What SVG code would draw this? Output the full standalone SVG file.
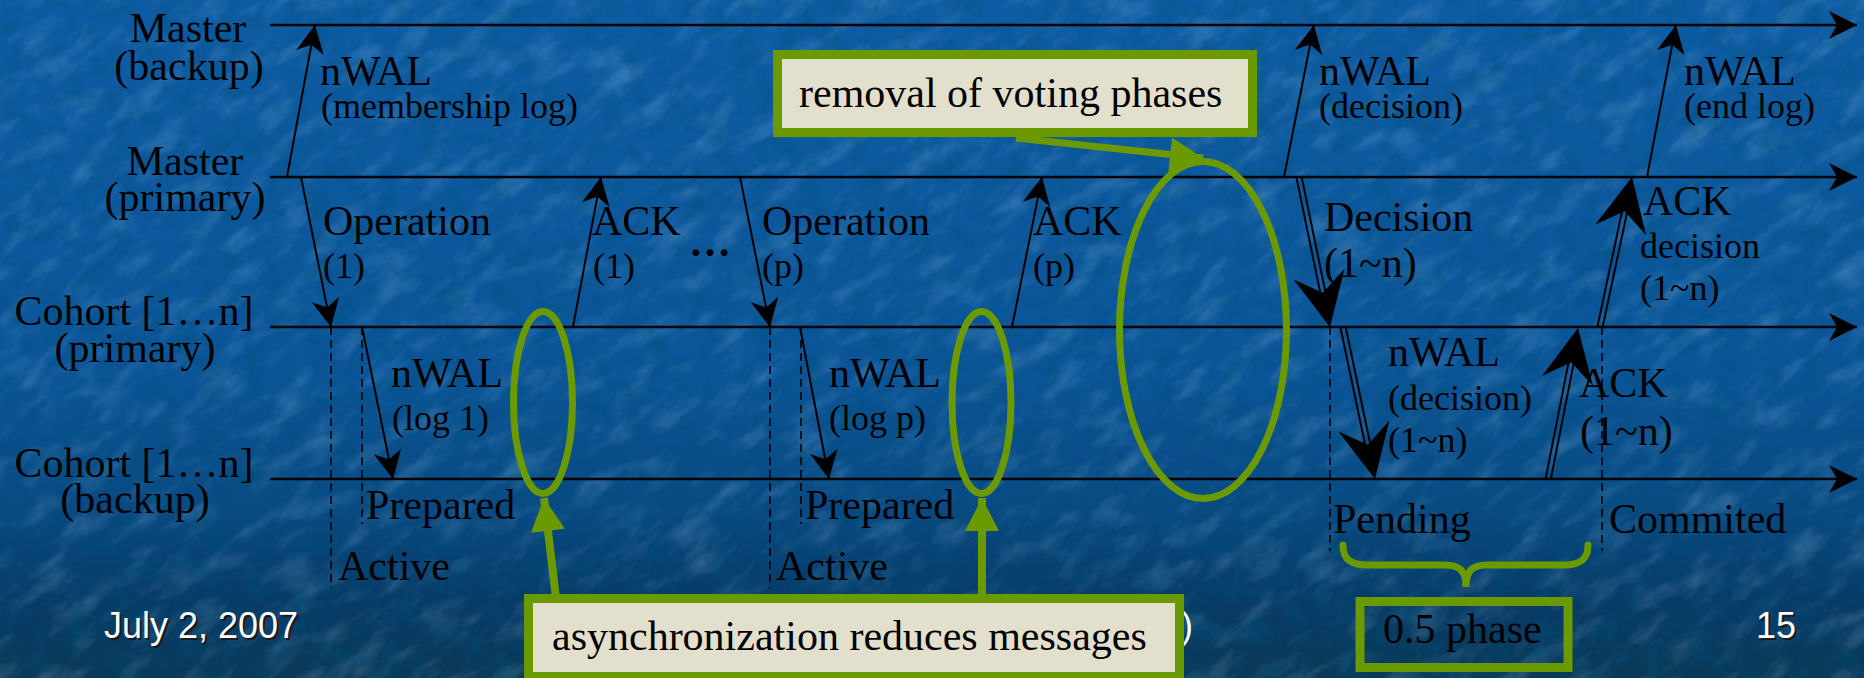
<svg xmlns="http://www.w3.org/2000/svg" width="1864" height="678" viewBox="0 0 1864 678">
  <defs>
    <linearGradient id="bg" x1="0" y1="0" x2="0" y2="1">
      <stop offset="0" stop-color="#0e5ca3"/>
      <stop offset="0.55" stop-color="#0b5597"/>
      <stop offset="0.75" stop-color="#094a82"/>
      <stop offset="0.88" stop-color="#073c68"/>
      <stop offset="1" stop-color="#0a3a58"/>
    </linearGradient>
    <filter id="water" x="0" y="0" width="1" height="1">
      <feTurbulence type="fractalNoise" baseFrequency="0.02 0.05" numOctaves="4" seed="5"/>
      <feColorMatrix type="matrix" values="0 0 0 0 0.5  0 0 0 0 0.75  0 0 0 0 1  0 0 0 2.4 -1.15"/>
    </filter>
    <filter id="mottle" x="0" y="0" width="1" height="1">
      <feTurbulence type="fractalNoise" baseFrequency="0.045" numOctaves="3" seed="3"/>
      <feColorMatrix type="matrix" values="0 0 0 0 0  0 0 0 0 0.08  0 0 0 0 0.2  0 0 0 2.2 -0.95"/>
    </filter>
    <style>
      .t { font-family: "Liberation Serif", "Times New Roman", serif; fill: #000; }
      .l { font-size: 42px; }
      .s { font-size: 36px; }
      .foot { font-family: "Liberation Sans", Arial, sans-serif; font-size: 36px; }
      .tl { stroke: #000; stroke-width: 2.5; fill: none; marker-end: url(#ah); }
      .msg { stroke: #000; stroke-width: 2; fill: none; marker-end: url(#ah); }
      .dbl { stroke: #000; stroke-width: 2; fill: none; }
      .dash { stroke: #000; stroke-width: 1.6; stroke-dasharray: 8 5; fill: none; }
      .gr { stroke: #6b9a00; fill: none; }
      .box { fill: #e2dfcc; stroke: #6b9a00; stroke-width: 9; }
    </style>
    <marker id="ah" markerUnits="userSpaceOnUse" viewBox="-30 -16 32 32" markerWidth="32" markerHeight="32" refX="0" refY="0" orient="auto" overflow="visible">
      <path d="M0,0 L-28,-14 L-20,0 L-28,14 z" fill="#000"/>
    </marker>
    <marker id="gh" markerUnits="userSpaceOnUse" viewBox="-36 -20 38 40" markerWidth="38" markerHeight="40" refX="0" refY="0" orient="auto" overflow="visible">
      <path d="M0,0 L-33,-17 L-33,17 z" fill="#6b9a00"/>
    </marker>
    <path id="bighead" d="M0,0 L-54,-26 L-35,0 L-54,26 z" fill="#000"/>
  </defs>

  <!-- backdrop: blue water texture -->
  <rect width="1864" height="678" fill="url(#bg)"/>
  <g opacity="0.2">
    <rect x="-700" y="-900" width="3300" height="2500" filter="url(#water)" transform="rotate(-35 932 339)"/>
  </g>
  <g opacity="0.45">
    <rect width="1864" height="678" filter="url(#mottle)"/>
  </g>

  <!-- lifelines -->
  <g id="lifelines">
    <g id="master-backup">
      <text class="t l" x="188" y="42" text-anchor="middle">Master</text>
      <text class="t l" x="189" y="80" text-anchor="middle">(backup)</text>
      <line class="tl" x1="270" y1="25" x2="1857" y2="25"/>
    </g>
    <g id="master-primary">
      <text class="t l" x="185" y="175" text-anchor="middle">Master</text>
      <text class="t l" x="185" y="211" text-anchor="middle">(primary)</text>
      <line class="tl" x1="270" y1="177" x2="1857" y2="177"/>
    </g>
    <g id="cohort-primary">
      <text class="t l" x="134" y="325" text-anchor="middle">Cohort [1…n]</text>
      <text class="t l" x="135" y="362" text-anchor="middle">(primary)</text>
      <line class="tl" x1="270" y1="327" x2="1857" y2="327"/>
    </g>
    <g id="cohort-backup">
      <text class="t l" x="134" y="477" text-anchor="middle">Cohort [1…n]</text>
      <text class="t l" x="135" y="513" text-anchor="middle">(backup)</text>
      <line class="tl" x1="270" y1="479" x2="1857" y2="479"/>
    </g>
  </g>

  <!-- state markers -->
  <g id="states">
    <line class="dash" x1="331" y1="327" x2="331" y2="588"/>
    <line class="dash" x1="362" y1="327" x2="362" y2="524"/>
    <line class="dash" x1="770" y1="327" x2="770" y2="588"/>
    <line class="dash" x1="801" y1="327" x2="801" y2="524"/>
    <line class="dash" x1="1330" y1="327" x2="1330" y2="551"/>
    <line class="dash" x1="1602" y1="327" x2="1602" y2="551"/>
    <text class="t l" x="366" y="519">Prepared</text>
    <text class="t l" x="338" y="580">Active</text>
    <text class="t l" x="805" y="519">Prepared</text>
    <text class="t l" x="776" y="580">Active</text>
    <text class="t l" x="1333" y="533">Pending</text>
    <text class="t l" x="1609" y="533">Commited</text>
  </g>

  <!-- messages -->
  <g id="connectors">
    <line class="msg" x1="287" y1="177" x2="315" y2="25"/>
    <line class="msg" x1="301" y1="177" x2="331" y2="327"/>
    <line class="msg" x1="573" y1="327" x2="601" y2="177"/>
    <line class="msg" x1="740" y1="177" x2="770" y2="327"/>
    <line class="msg" x1="1012" y1="327" x2="1042" y2="177"/>
    <line class="msg" x1="1284" y1="177" x2="1314" y2="25"/>
    <line class="msg" x1="1647" y1="177" x2="1676" y2="25"/>
    <line class="msg" x1="362" y1="327" x2="393" y2="479"/>
    <line class="msg" x1="800" y1="327" x2="829" y2="479"/>

    <!-- double-line broadcast arrows, drawn along +x then turned into place -->
    <g transform="translate(1330 327) rotate(78.32)">
      <path class="dbl" d="M-153,-2.6 H-34 M-153,2.6 H-34"/>
      <use href="#bighead"/>
    </g>
    <g transform="translate(1632 177) rotate(-77.96)">
      <path class="dbl" d="M-153,-2.6 H-34 M-153,2.6 H-34"/>
      <use href="#bighead"/>
    </g>
    <g transform="translate(1375 479) rotate(78.11)">
      <path class="dbl" d="M-155,-2.6 H-34 M-155,2.6 H-34"/>
      <use href="#bighead"/>
    </g>
    <g transform="translate(1578 328) rotate(-78.84)">
      <path class="dbl" d="M-154,-2.6 H-34 M-154,2.6 H-34"/>
      <use href="#bighead"/>
    </g>
  </g>

  <!-- message labels -->
  <g id="labels">
    <text class="t l" x="320" y="85">nWAL</text>
    <text class="t s" x="321" y="118">(membership log)</text>
    <text class="t l" x="323" y="235">Operation</text>
    <text class="t s" x="323" y="278">(1)</text>
    <text class="t l" x="592" y="235">ACK</text>
    <text class="t s" x="593" y="278">(1)</text>
    <text class="t l" x="689" y="256" font-weight="bold">…</text>
    <text class="t l" x="762" y="235">Operation</text>
    <text class="t s" x="762" y="278">(p)</text>
    <text class="t l" x="1033" y="235">ACK</text>
    <text class="t s" x="1033" y="278">(p)</text>
    <text class="t l" x="1319" y="85">nWAL</text>
    <text class="t s" x="1319" y="118">(decision)</text>
    <text class="t l" x="1684" y="85">nWAL</text>
    <text class="t s" x="1684" y="118">(end log)</text>
    <text class="t l" x="1324" y="231">Decision</text>
    <text class="t l" x="1324" y="277">(1~n)</text>
    <text class="t l" x="1643" y="215">ACK</text>
    <text class="t s" x="1640" y="258">decision</text>
    <text class="t s" x="1640" y="300">(1~n)</text>
    <text class="t l" x="391" y="387">nWAL</text>
    <text class="t s" x="392" y="430">(log 1)</text>
    <text class="t l" x="829" y="387">nWAL</text>
    <text class="t s" x="829" y="430">(log p)</text>
    <text class="t l" x="1388" y="366">nWAL</text>
    <text class="t s" x="1388" y="410">(decision)</text>
    <text class="t s" x="1388" y="452">(1~n)</text>
    <text class="t l" x="1579" y="397">ACK</text>
    <text class="t l" x="1580" y="445">(1~n)</text>
  </g>

  <!-- slide footer -->
  <g id="footer" class="foot">
    <text x="106" y="640" fill="#1a1a1a">July 2, 2007</text>
    <text x="104" y="638" fill="#fff">July 2, 2007</text>
    <text x="1181" y="638" fill="#fff">)</text>
    <text x="1758" y="640" fill="#1a1a1a">15</text>
    <text x="1756" y="638" fill="#fff">15</text>
  </g>

  <!-- highlights -->
  <g id="highlights">
    <ellipse class="gr" cx="543" cy="402.5" rx="29.5" ry="91" stroke-width="7"/>
    <ellipse class="gr" cx="981.5" cy="402.5" rx="29.5" ry="91" stroke-width="7"/>
    <ellipse class="gr" cx="1203" cy="330" rx="83.5" ry="168.5" stroke-width="7"/>
  </g>

  <!-- callouts -->
  <g id="callout-voting">
    <line class="gr" x1="1016" y1="138" x2="1203" y2="158" stroke-width="7" marker-end="url(#gh)"/>
    <rect class="box" x="777.5" y="54.5" width="475" height="78"/>
    <text class="t l" x="799" y="107">removal of voting phases</text>
  </g>
  <g id="callout-async">
    <line class="gr" x1="556" y1="598" x2="544" y2="498" stroke-width="8" marker-end="url(#gh)"/>
    <line class="gr" x1="982" y1="598" x2="982" y2="498" stroke-width="8" marker-end="url(#gh)"/>
    <rect class="box" x="528.5" y="598.5" width="651" height="78"/>
    <text class="t l" x="552" y="650">asynchronization reduces messages</text>
  </g>
  <g id="callout-phase">
    <path class="gr" stroke-width="7" stroke-linecap="round" d="M1343,545 C1343,559 1350,565 1368,565 L1445,565 C1460,565 1466,571 1466,587 C1466,571 1472,565 1487,565 L1564,565 C1581,565 1588,559 1588,545"/>
    <rect class="gr" x="1360" y="601.5" width="208" height="66" stroke-width="9"/>
    <text class="t l" x="1383" y="643">0.5 phase</text>
  </g>
</svg>
